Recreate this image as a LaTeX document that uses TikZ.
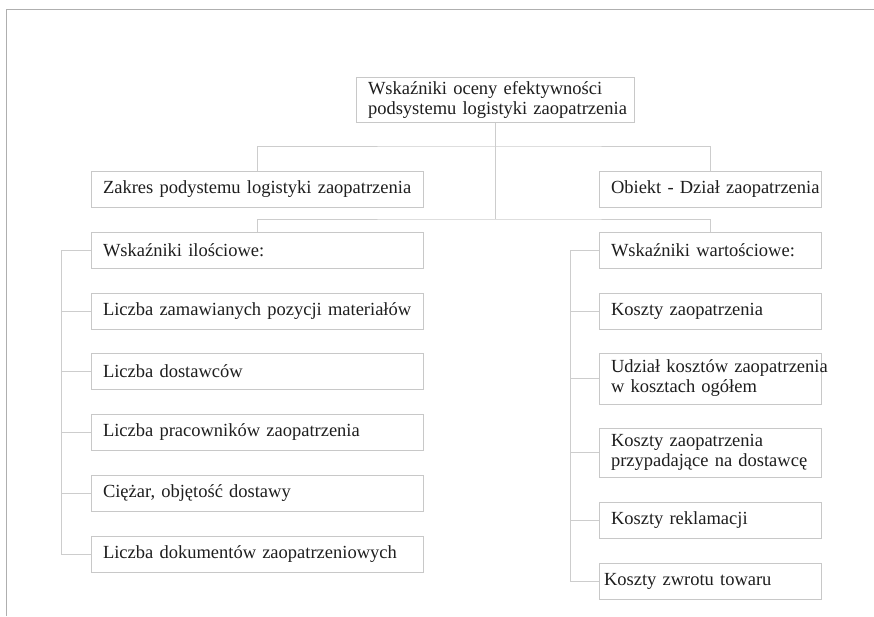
\documentclass[tikz,border=0pt]{standalone}
\usepackage{fontspec}
\setmainfont{Liberation Serif}
\begin{document}
\begin{tikzpicture}[x=1pt,y=-1pt,
  box/.style={draw=boxgray, line width=1pt, rectangle, inner xsep=12pt, inner ysep=0pt,
    align=left, font=\fontsize{18.5}{20}\selectfont, text=txt, anchor=center},
  wide/.style={box, text width=308pt, minimum height=36pt},
  narrow/.style={box, text width=198pt, minimum height=36pt},
  link/.style={draw=linegray, line width=1pt}]
\definecolor{boxgray}{RGB}{200,200,200}
\definecolor{linegray}{RGB}{205,205,205}
\definecolor{framegray}{RGB}{175,175,175}
\definecolor{txt}{RGB}{30,30,30}
\useasboundingbox (0,0) rectangle (874,616);
\fill[white] (0,0) rectangle (874,616);
% outer frame
\draw[framegray, line width=1.2pt] (6.5,616) -- (6.5,9.5) -- (874,9.5);

% top level
\node[box, text width=254pt, minimum height=45pt] (top) at (495,99.5)
  {\mbox{Wskaźniki oceny efektywności}\\\mbox{podsystemu logistyki zaopatrzenia}};
\node[wide] (zak) at (257,189) {\mbox{Zakres podystemu logistyki zaopatrzenia}};
\node[narrow] (obi) at (710,189) {\mbox{Obiekt - Dział zaopatrzenia}};

% left column
\node[wide] (wi) at (257,250) {\mbox{Wskaźniki ilościowe:}};
\node[wide] (l1) at (257,311) {\mbox{Liczba zamawianych pozycji materiałów}};
\node[wide] (l2) at (257,371) {\mbox{Liczba dostawców}};
\node[wide] (l3) at (257,432) {\mbox{Liczba pracowników zaopatrzenia}};
\node[wide] (l4) at (257,493) {\mbox{Ciężar, objętość dostawy}};
\node[wide] (l5) at (257,554) {\mbox{Liczba dokumentów zaopatrzeniowych}};

% right column
\node[narrow] (ww) at (710,250) {\mbox{Wskaźniki wartościowe:}};
\node[narrow] (r1) at (710,311) {\mbox{Koszty zaopatrzenia}};
\node[narrow, minimum height=51pt] (r2) at (710,378.5)
  {\mbox{Udział kosztów zaopatrzenia}\\\mbox{w kosztach ogółem}};
\node[narrow, minimum height=49pt] (r3) at (710,452.5)
  {\mbox{Koszty zaopatrzenia}\\\mbox{przypadające na dostawcę}};
\node[narrow] (r4) at (710,520) {\mbox{Koszty reklamacji}};
\node[narrow, inner xsep=5pt, text width=212pt] (r5) at (710,581) {\mbox{Koszty zwrotu towaru}};

% tree connectors
\coordinate (h1) at (495,146);
\coordinate (h2) at (495,219);
\coordinate (lx) at (61,0);
\coordinate (rx) at (570,0);
\draw[link] (top.south) -- (h2);
\draw[link] (zak.north) |- (h1) -| (obi.north);
\draw[link] (wi.north) |- (h2) -| (ww.north);

\draw[link] (wi.west) -| (lx |- l5.west) -- (l5.west);
\foreach \n in {l1,l2,l3,l4} \draw[link] (\n.west) -- (\n.west -| lx);

\draw[link] (ww.west) -| (rx |- r5.west) -- (r5.west);
\foreach \n in {r1,r2,r3,r4} \draw[link] (\n.west) -- (\n.west -| rx);
\end{tikzpicture}
\end{document}
